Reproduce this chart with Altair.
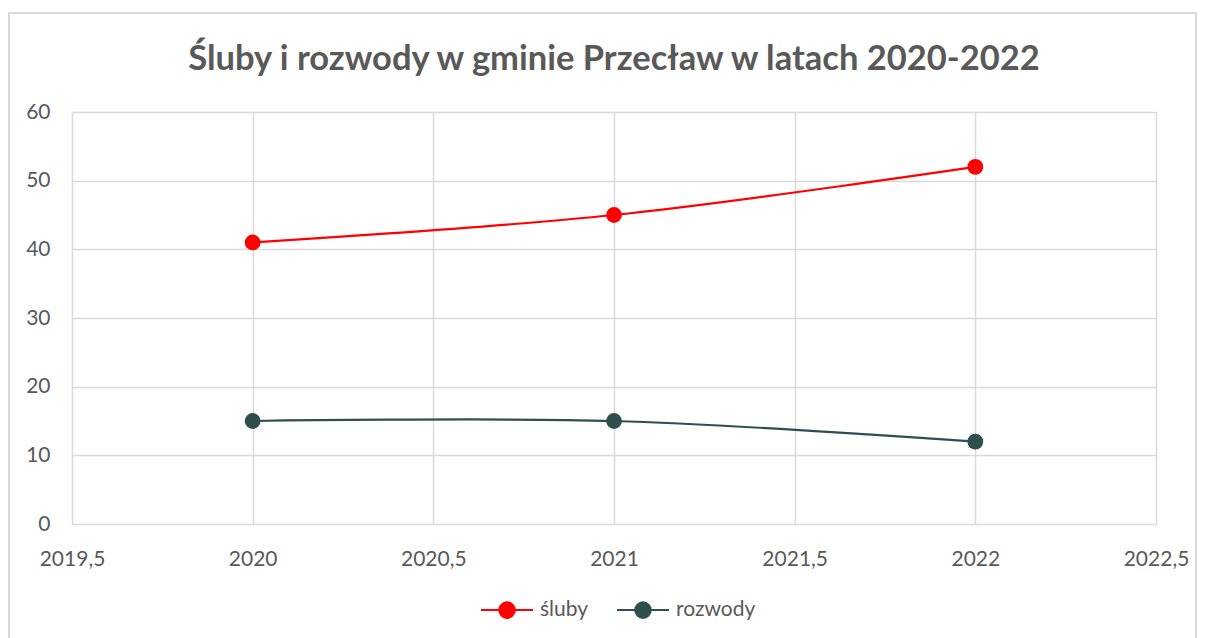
import altair as alt
import pandas as pd

years = [2020, 2021, 2022]
sluby = [41, 45, 52]
rozwody = [15, 15, 12]
series_names = ["śluby", "rozwody"]
series_colors = ["#FF0000", "#2F4F4F"]
x_ticks = [2019.5, 2020, 2020.5, 2021, 2021.5, 2022, 2022.5]
y_ticks = [0, 10, 20, 30, 40, 50, 60]

rows = []
for y, v in zip(years, sluby):
    rows.append({"rok": y, "liczba": v, "seria": series_names[0]})
for y, v in zip(years, rozwody):
    rows.append({"rok": y, "liczba": v, "seria": series_names[1]})
df = pd.DataFrame(rows)

TEXT = "#595959"
GRID = "#D9D9D9"
FONT = "Lato"

x_enc = alt.X(
    "rok:Q",
    scale=alt.Scale(domain=[2019.5, 2022.5], nice=False, zero=False),
    axis=alt.Axis(
        values=x_ticks,
        title=None,
        labelExpr="replace(toString(datum.value), '.', ',')",
        grid=True,
        labelFlush=False,
        labelPadding=24,
    ),
)
y_enc = alt.Y(
    "liczba:Q",
    scale=alt.Scale(domain=[0, 60], nice=False),
    axis=alt.Axis(values=y_ticks, title=None, grid=True, labelFlush=False, labelPadding=22),
)
color_scale = alt.Scale(domain=series_names, range=series_colors)

legend_path = (
    "M-1,0H1M-0.3,0A0.3,0.3,0,1,1,0.3,0A0.3,0.3,0,1,1,-0.3,0Z"
)
legend = alt.Legend(
    title=None,
    orient="none",
    direction="horizontal",
    legendX=408,
    legendY=471,
    symbolType=legend_path,
    symbolSize=2700,
    symbolStrokeWidth=2,
    labelFontSize=21,
    labelFont=FONT,
    labelColor=TEXT,
    labelOffset=6,
    columnPadding=24,
)

lines = alt.Chart(df).mark_line(interpolate="catmull-rom", strokeWidth=2.2).encode(
    x=x_enc,
    y=y_enc,
    stroke=alt.Stroke("seria:N", scale=color_scale, sort=series_names, legend=legend),
)

points = alt.Chart(df).mark_point(filled=True, size=250, opacity=1, strokeWidth=0).encode(
    x=x_enc,
    y=y_enc,
    fill=alt.Fill("seria:N", scale=color_scale, sort=series_names, legend=legend),
)

frame = alt.Chart(df).mark_rect(
    fill=None, stroke=GRID, strokeWidth=2
).encode(
    x=alt.value(-63),
    x2=alt.value(1124),
    y=alt.value(-99),
    y2=alt.value(600),
)

chart = (
    alt.layer(frame, lines, points)
    .properties(
        width=1084,
        height=412,
        title=alt.TitleParams(
            "Śluby i rozwody w gminie Przecław w latach 2020-2022",
            anchor="middle",
            fontSize=34.5,
            font=FONT,
            fontWeight="bold",
            color=TEXT,
            baseline="alphabetic",
            offset=-92,
        ),
        autosize=alt.AutoSizeParams(type="none"),
        padding={"left": 64, "top": 104, "right": 41, "bottom": 114},
    )
    .configure_view(stroke=None)
    .configure_axis(
        domain=False,
        ticks=False,
        gridColor=GRID,
        gridWidth=1.5,
        labelFont=FONT,
        labelFontSize=21,
        labelColor=TEXT,
    )
)

chart.save("out.html", embed_options={"renderer": "svg", "actions": False})
